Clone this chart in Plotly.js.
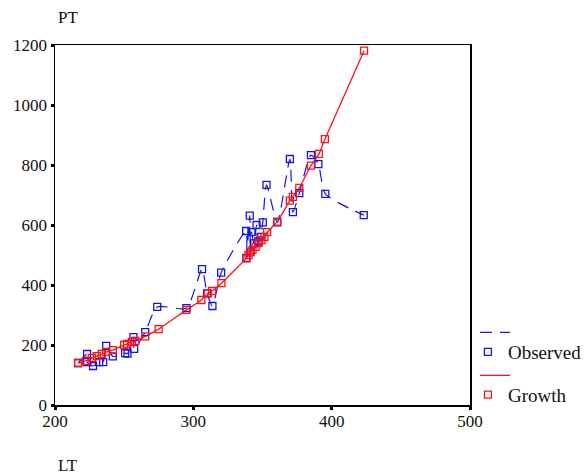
<!DOCTYPE html>
<html>
<head>
<meta charset="utf-8">
<script src="https://cdn.plot.ly/plotly-3.0.1.min.js"></script>
<style>html,body{margin:0;padding:0;background:#fff;}#chart{width:588px;height:474px;}</style>
</head>
<body>
<div id="chart"></div>
<script>
// Observed LT / PT values (sorted by LT)
const observedLT = [216.7, 223.2, 223.2, 227.5, 231.9, 234.8, 237.0, 241.8, 250.7, 252.4, 256.7, 257.2, 265.2, 273.9, 295.0, 306.3, 309.9, 313.8, 320.1, 338.2, 338.4, 340.8, 341.3, 342.0, 343.7, 345.7, 347.0, 348.6, 350.2, 352.9, 360.7, 369.8, 372.0, 376.6, 385.0, 390.4, 395.4, 423.2];
const observedPT = [140, 170, 143, 130, 143, 143, 197, 162, 173, 171, 226, 187, 243, 327, 323, 453, 372, 330, 441, 580, 490, 631, 510, 576, 539, 600, 545, 560, 609, 734, 609, 820, 643, 706, 833, 803, 704, 633];

// Growth curve LT / PT values
const growthLT = [216.7, 222.5, 226.6, 230.2, 233.8, 237.0, 241.8, 250.0, 252.0, 255.6, 258.0, 265.2, 274.9, 295.0, 305.8, 310.4, 313.5, 320.3, 338.2, 339.9, 341.3, 342.8, 345.0, 347.1, 349.3, 351.4, 353.4, 360.6, 369.8, 372.0, 376.6, 385.0, 390.8, 395.1, 423.4];
const growthPT = [140, 147, 157, 163, 170, 177, 183, 200, 204, 210, 214, 229, 253, 317, 350, 372, 380, 406, 489, 500, 510, 517, 527, 540, 550, 560, 576, 611, 681, 694, 724, 798, 837, 886, 1181];

const xTicks = [200, 300, 400, 500];
const yTicks = [0, 200, 400, 600, 800, 1000, 1200];

const BLUE = 'rgb(20,20,230)';
const RED = 'rgb(250,20,20)';
const FONT = 'Liberation Serif, "DejaVu Serif", serif';

const traces = [
  {x: observedLT, y: observedPT, type: 'scatter', mode: 'lines', name: ' ',
   legend: 'legend2', legendgroup: 'obsLine',
   line: {color: BLUE, width: 1.2, dash: '12px,8px', shape: 'spline', smoothing: 0.6}},
  {x: growthLT, y: growthPT, type: 'scatter', mode: 'lines', name: ' ',
   legend: 'legend2', legendgroup: 'grLine',
   line: {color: RED, width: 1.3, shape: 'spline', smoothing: 0.6}},
  {x: observedLT, y: observedPT, type: 'scatter', mode: 'markers', name: 'Observed',
   legend: 'legend', legendgroup: 'obsMk',
   marker: {symbol: 'square-open', size: 7, color: BLUE, line: {width: 1.3, color: BLUE}}},
  {x: growthLT, y: growthPT, type: 'scatter', mode: 'markers', name: 'Growth',
   legend: 'legend', legendgroup: 'grMk',
   marker: {symbol: 'square-open', size: 7, color: RED, line: {width: 1.3, color: RED}}}
];

const axisCommon = {
  showgrid: false, zeroline: false, showline: true, mirror: true,
  linecolor: 'black', linewidth: 1.5,
  ticks: 'outside', ticklen: 3, tickwidth: 3, tickcolor: 'black',
  tickfont: {family: FONT, size: 17, color: '#111'}
};

const layout = {
  width: 588, height: 474,
  margin: {l: 55, r: 118, t: 45, b: 69, autoexpand: false},
  paper_bgcolor: 'white', plot_bgcolor: 'white',
  showlegend: true,
  xaxis: Object.assign({}, axisCommon, {range: [200, 500], tickvals: xTicks, ticktext: xTicks.map(String), ticklabelstandoff: -3}),
  yaxis: Object.assign({}, axisCommon, {range: [0, 1200], tickvals: yTicks, ticktext: yTicks.map(String), ticklabelstandoff: 0}),
  legend: {x: 0.995, xanchor: 'left', y: 0.2, yanchor: 'top', traceorder: 'grouped',
           font: {family: FONT, size: 19, color: '#111'},
           bgcolor: 'rgba(0,0,0,0)', tracegroupgap: 15, itemwidth: 30},
  legend2: {x: 1.012, xanchor: 'left', y: 0.242, yanchor: 'top', traceorder: 'grouped',
           font: {family: FONT, size: 10, color: '#111'},
           bgcolor: 'rgba(0,0,0,0)', tracegroupgap: 24, itemwidth: 30},
  annotations: [
    {text: 'PT', xref: 'paper', yref: 'paper', x: 0, y: 1, xshift: 1, yshift: 28, xanchor: 'left', yanchor: 'middle',
     showarrow: false, font: {family: FONT, size: 17, color: '#111'}},
    {text: 'LT', xref: 'paper', yref: 'paper', x: 0, y: 0, xshift: 1, yshift: -60, xanchor: 'left', yanchor: 'middle',
     showarrow: false, font: {family: FONT, size: 17, color: '#111'}}
  ]
};

Plotly.newPlot('chart', traces, layout, {staticPlot: true, displayModeBar: false});
</script>
</body>
</html>
